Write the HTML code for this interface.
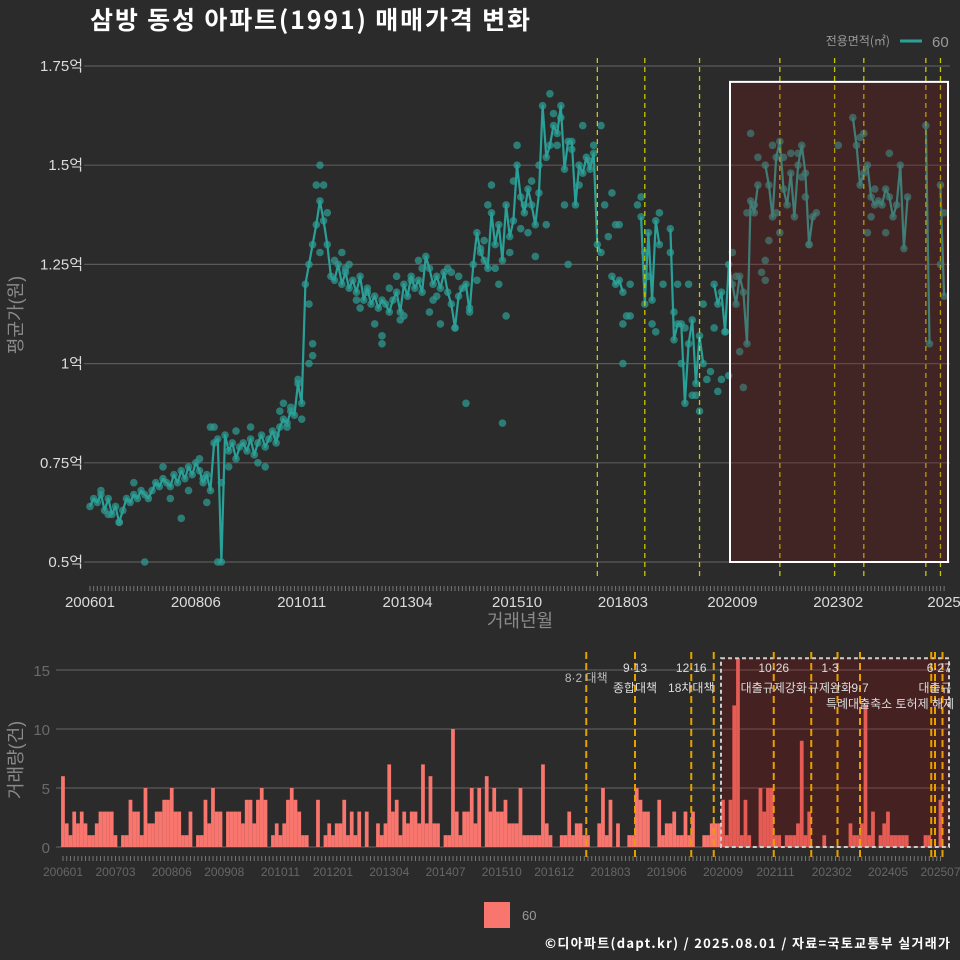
<!DOCTYPE html>
<html><head><meta charset="utf-8"><style>
html,body{margin:0;padding:0;background:#2b2b2b;}
svg{display:block;font-family:"Liberation Sans","Noto Sans CJK KR",sans-serif;}
</style></head><body>
<svg id="chart" width="960" height="960" viewBox="0 0 960 960" xmlns="http://www.w3.org/2000/svg">
<rect x="0" y="0" width="960" height="960" fill="#2b2b2b"/>
<text x="90" y="29" font-size="25" font-weight="bold" fill="#ffffff" textLength="440" font-family="'Noto Sans CJK KR',sans-serif">삼방 동성 아파트(1991) 매매가격 변화</text>
<g>
<text x="890" y="45" font-size="12" fill="#9a9a9a" text-anchor="end" font-family="'Noto Sans CJK KR',sans-serif">전용면적(㎡)</text>
<line x1="900" y1="41" x2="922" y2="41" stroke="#2aa198" stroke-width="3"/>
<text x="932" y="47" font-size="15" fill="#9a9a9a">60</text>
</g>
<g id="top"></g>
<g id="bot"></g>
<g>
<rect x="484" y="902" width="26" height="26" fill="#f8766d"/>
<text x="522" y="920" font-size="13" fill="#9a9a9a">60</text>
</g>
<text x="950" y="948" font-size="13" font-weight="bold" fill="#ffffff" text-anchor="end" textLength="405" font-family="'Noto Sans CJK KR',sans-serif">©디아파트(dapt.kr) / 2025.08.01 / 자료=국토교통부 실거래가</text>
</svg>
<script>
const priceTicks=[0.5,0.75,1,1.25,1.5,1.75];
const priceTickLabels=["0.5억","0.75억","1억","1.25억","1.5억","1.75억"];
const topXLabels=["200601","200806","201011","201304","201510","201803","202009","202302","2025"];
const topXMonths=[0,29,58,87,117,146,176,205,234];
const botXLabels=["200601","200703","200806","200908","201011","201201","201304","201407","201510","201612","201803","201906","202009","202111","202302","202405","202507"];
const volTicks=[0,5,10,15];
const topEvents=[139,152,167,189,204,212,229,233];
const botEvents=[139,152,167,173,189,199,206,212,231,232,234];
const priceLine=[
.64,.66,.65,.67,.63,.66,.62,.64,.60,.63,
.66,.65,.67,.66,.68,.67,.66,.68,.70,.69,
.71,.70,.69,.72,.70,.73,.71,.74,.72,.75,
.73,.70,.72,.68,.80,.81,.50,.82,.78,.80,
.76,.79,.80,.78,.81,.77,.80,.82,.79,.81,
.83,.80,.84,.86,.85,.88,.87,.95,.90,1.20,
1.25,1.30,1.35,1.41,1.36,1.30,1.22,1.21,1.25,1.20,
1.23,1.19,1.21,1.18,1.22,1.16,1.19,1.15,1.17,1.14,
1.16,1.15,1.13,1.16,1.18,1.13,1.20,1.17,1.22,1.19,
1.21,1.18,1.27,1.24,1.20,1.22,1.19,1.23,1.18,1.15,
1.09,1.17,1.19,1.20,1.13,1.25,1.33,1.28,1.26,1.24,
1.38,1.30,1.35,1.26,1.40,1.32,1.36,1.50,1.42,1.38,
1.44,1.40,1.35,1.43,1.65,1.52,1.55,1.60,1.58,1.65,
1.49,1.56,1.56,1.40,1.50,1.48,1.52,1.49,1.53,1.30,
1.28,null,null,1.22,1.20,1.21,1.18,null,1.20,null,
null,1.37,1.15,1.33,1.16,1.36,1.30,null,null,1.34,
1.06,1.10,1.10,0.90,1.05,1.11,0.95,1.07,1.00,null,
null,1.20,1.15,1.18,1.08,1.25,1.20,1.15,1.22,1.18,
1.05,1.41,1.38,1.45,null,1.50,1.45,1.37,1.52,1.56,
1.44,1.40,1.48,1.37,1.50,1.55,1.48,1.30,1.37,1.38,
null,null,null,null,null,null,null,null,null,1.62,
1.55,1.45,1.48,1.50,1.42,1.40,1.41,1.40,1.44,1.42,
1.37,1.40,1.50,1.29,1.42,null,null,null,null,1.60,
1.05,null,null,1.45,1.17];
const extraMonths=[3,5,8,12,15,20,22,25,27,30,31,32,33,34,35,36,38,40,44,46,48,51,52,53,54,55,57,58,60,61,61,62,63,64,65,63,60,67,69,70,71,73,74,76,78,80,80,82,84,85,86,88,90,91,93,94,95,96,98,99,100,101,103,104,106,107,108,109,110,111,112,113,114,115,116,117,118,119,120,121,122,123,125,126,127,128,129,130,131,132,134,135,137,138,140,141,142,143,144,145,146,146,147,148,150,151,152,153,154,155,156,157,159,160,161,162,163,164,165,166,167,168,169,170,171,172,173,174,175,176,177,178,179,180,181,182,183,184,185,185,186,187,188,189,190,192,194,195,196,197,205,211,212,213,214,215,218,219,233,234];
const extraPrices=[.68,.62,.6,.70,.5,.74,.66,.61,.68,.76,.71,.65,.84,.84,.50,.70,.74,.83,.84,.75,.74,.82,.88,.90,.84,.89,.96,.86,1.0,1.05,1.02,1.45,1.5,1.45,1.38,1.28,1.15,1.26,1.28,1.24,1.25,1.16,1.14,1.18,1.10,1.07,1.05,1.19,1.22,1.11,1.12,1.21,1.26,1.24,1.13,1.16,1.17,1.10,1.24,1.23,1.09,1.22,0.90,1.14,1.21,1.29,1.31,1.40,1.45,1.24,1.20,0.85,1.12,1.28,1.46,1.55,1.34,1.40,1.33,1.46,1.27,1.50,1.35,1.68,1.63,1.55,1.62,1.40,1.25,1.54,1.45,1.60,1.51,1.55,1.60,1.40,1.32,1.43,1.35,1.35,1.10,1.00,1.12,1.12,1.40,1.42,1.28,1.22,1.10,1.08,1.38,1.20,1.28,1.13,1.20,1.00,1.09,1.20,0.92,0.92,0.88,1.15,0.96,0.98,1.09,0.93,0.96,1.08,0.97,1.28,1.22,1.03,0.94,1.38,1.58,1.40,1.52,1.23,1.26,1.21,1.31,1.55,1.38,1.33,1.52,1.53,1.53,1.47,1.42,1.30,1.55,1.57,1.58,1.33,1.37,1.44,1.33,1.53,1.25,1.38];
const volumes=[
6,2,1,3,2,3,2,1,1,2,3,3,3,3,1,0,1,1,4,3,
3,1,5,2,2,3,3,4,4,5,3,3,1,1,3,0,1,1,4,2,
5,3,3,0,3,3,3,3,2,4,4,2,4,5,4,0,1,2,1,2,
4,5,4,3,1,1,0,0,4,0,1,2,1,2,2,4,1,3,1,3,
0,3,0,0,2,1,2,7,3,4,1,3,2,3,3,2,7,2,6,2,
2,0,1,1,10,3,1,3,3,5,2,5,0,6,3,5,3,3,4,2,
2,2,5,1,1,1,1,1,7,2,1,0,0,1,1,3,1,2,2,1,
1,0,0,2,5,1,4,0,2,0,0,1,1,5,4,3,3,0,0,4,
1,2,2,3,1,1,3,1,3,0,0,1,1,2,2,2,4,1,4,12,
16,1,4,1,0,0,5,3,5,5,1,1,0,1,1,1,2,9,1,3,
0,0,0,1,0,0,0,0,0,0,2,1,1,2,12,1,3,0,1,2,
3,1,1,1,1,1,0,0,0,0,1,1,0,0,4];
const annTop=["8·2 대책","9·13","12·16","10·26","1·3","6·27"];
const annTopMonth=[139,152,167,189,204,233];
const annBottom=["종합대책","18차대책","대출규제강화","규제완화","9·7","대출규"];
const annBottomMonth=[152,167,189,204,212,232];

const NS="http://www.w3.org/2000/svg";
function mk(parent,tag,attrs,txt){const e=document.createElementNS(NS,tag);for(const k in attrs)e.setAttribute(k,attrs[k]);if(txt!==undefined)e.textContent=txt;parent.appendChild(e);return e;}
function monthOf(lbl){const y=+lbl.slice(0,4),m=lbl.length>4?+lbl.slice(4,6):7;return (y-2006)*12+(m-1);}

// ---------- top panel ----------
const T=document.getElementById('top');
const xT=m=>90+3.65*m;
const yT=v=>562-(v-0.5)*396.8;
priceTicks.forEach((v,i)=>{
  const g=mk(T,'line',{x1:84,x2:950,y1:yT(v),y2:yT(v),stroke:'#5a5a5a','stroke-width':1.2});
  
  
  const t=mk(T,'text',{x:83,y:yT(v)+5,'font-size':15,fill:'#dcdcdc','text-anchor':'end'},priceTickLabels[i]);
  
  
});
const yt=mk(T,'text',{x:0,y:0,'font-size':18,fill:'#8a8a8a','text-anchor':'middle',transform:'translate(22,315) rotate(-90)'},'평균가(원)');


for(let m=0;m<=234;m++){
  const tk=mk(T,'line',{x1:xT(m),x2:xT(m),y1:586,y2:591,stroke:'#777','stroke-width':1});
  
  
}
topXLabels.forEach((l,i)=>{
  const t=mk(T,'text',{x:xT(topXMonths[i]),y:607,'font-size':15,fill:'#dcdcdc','text-anchor':'middle'},l);
  
  
});
const xt=mk(T,'text',{x:520,y:627,'font-size':18,fill:'#8a8a8a','text-anchor':'middle'},'거래년월');


const ptsG=mk(T,'g',{});


extraMonths.forEach((m,i)=>{
  const c=mk(ptsG,'circle',{cx:xT(m),cy:yT(extraPrices[i]),r:3.8,fill:'#2f9a92','fill-opacity':0.75});
  
  
});
priceLine.forEach((v,m)=>{ if(v==null)return;
  const c=mk(ptsG,'circle',{cx:xT(m),cy:yT(v),r:3.8,fill:'#2f9a92','fill-opacity':0.75});
  
  
});
let d='',pen=false;
priceLine.forEach((v,m)=>{ if(v==null){pen=false;return;} d+=(pen?'L':'M')+xT(m).toFixed(1)+','+yT(v).toFixed(1); pen=true;});
const pl=mk(T,'path',{d:d,fill:'none',stroke:'#2aa198','stroke-width':2.2,'stroke-linejoin':'round'});


topEvents.forEach(m=>{
  const l=mk(T,'line',{x1:xT(m),x2:xT(m),y1:58,y2:580,stroke:'#c8c800','stroke-width':1.3,'stroke-dasharray':'5,4'});
  
  
});
const hr=mk(T,'rect',{x:730,y:yT(1.71),width:218,height:yT(0.5)-yT(1.71),fill:'rgba(130,20,20,0.25)',stroke:'#ffffff','stroke-width':2});



// ---------- bottom panel ----------
const B=document.getElementById('bot');
const xB=m=>63+3.75*m;
const yB=c=>847-c*11.8;
volTicks.forEach(v=>{
  const g=mk(B,'line',{x1:56,x2:950,y1:yB(v),y2:yB(v),stroke:'#5a5a5a','stroke-width':1.2});
  
  
  const t=mk(B,'text',{x:50,y:yB(v)+6,'font-size':15,fill:'#6a6a6a','text-anchor':'end'},String(v));
  
  
});
const yt2=mk(B,'text',{x:0,y:0,'font-size':18,fill:'#8a8a8a','text-anchor':'middle',transform:'translate(22,760) rotate(-90)'},'거래량(건)');


volumes.forEach((v,m)=>{ if(!v)return;
  const r=mk(B,'rect',{x:xB(m)-1.9,y:yB(v),width:3.75,height:yB(0)-yB(v),fill:'#f8766d'});
  
  
});
for(let m=0;m<=234;m++){
  const tk=mk(B,'line',{x1:xB(m),x2:xB(m),y1:856,y2:861,stroke:'#777','stroke-width':1});
  
  
}
botXLabels.forEach(l=>{
  const t=mk(B,'text',{x:xB(monthOf(l)),y:876,'font-size':12,fill:'#666','text-anchor':'middle'},l);
  
  
});
const br=mk(B,'rect',{x:721,y:yB(16),width:228,height:yB(0)-yB(16),fill:'rgba(170,0,0,0.22)',stroke:'#cccccc','stroke-width':2,'stroke-dasharray':'4,3'});


botEvents.forEach(m=>{
  const l=mk(B,'line',{x1:xB(m)+2,x2:xB(m)+2,y1:652,y2:858,stroke:'#e6a000','stroke-width':2,'stroke-dasharray':'7,4'});
  
  
});
annTop.forEach((s,i)=>{
  const t=mk(B,'text',{x:xB(annTopMonth[i])+2,y:i==0?682:672,'font-size':12,fill:i==0?'#bbbbbb':'#dddddd','text-anchor':'middle'},s);
  
  
});
annBottom.forEach((s,i)=>{
  const t=mk(B,'text',{x:xB(annBottomMonth[i])+2,y:692,'font-size':12,fill:'#dddddd','text-anchor':'middle'},s);
  
  
});
const an=mk(B,'text',{x:890,y:708,'font-size':12,fill:'#dddddd','text-anchor':'middle'},'특례대출축소 토허제 해제');


</script>
</body></html>
